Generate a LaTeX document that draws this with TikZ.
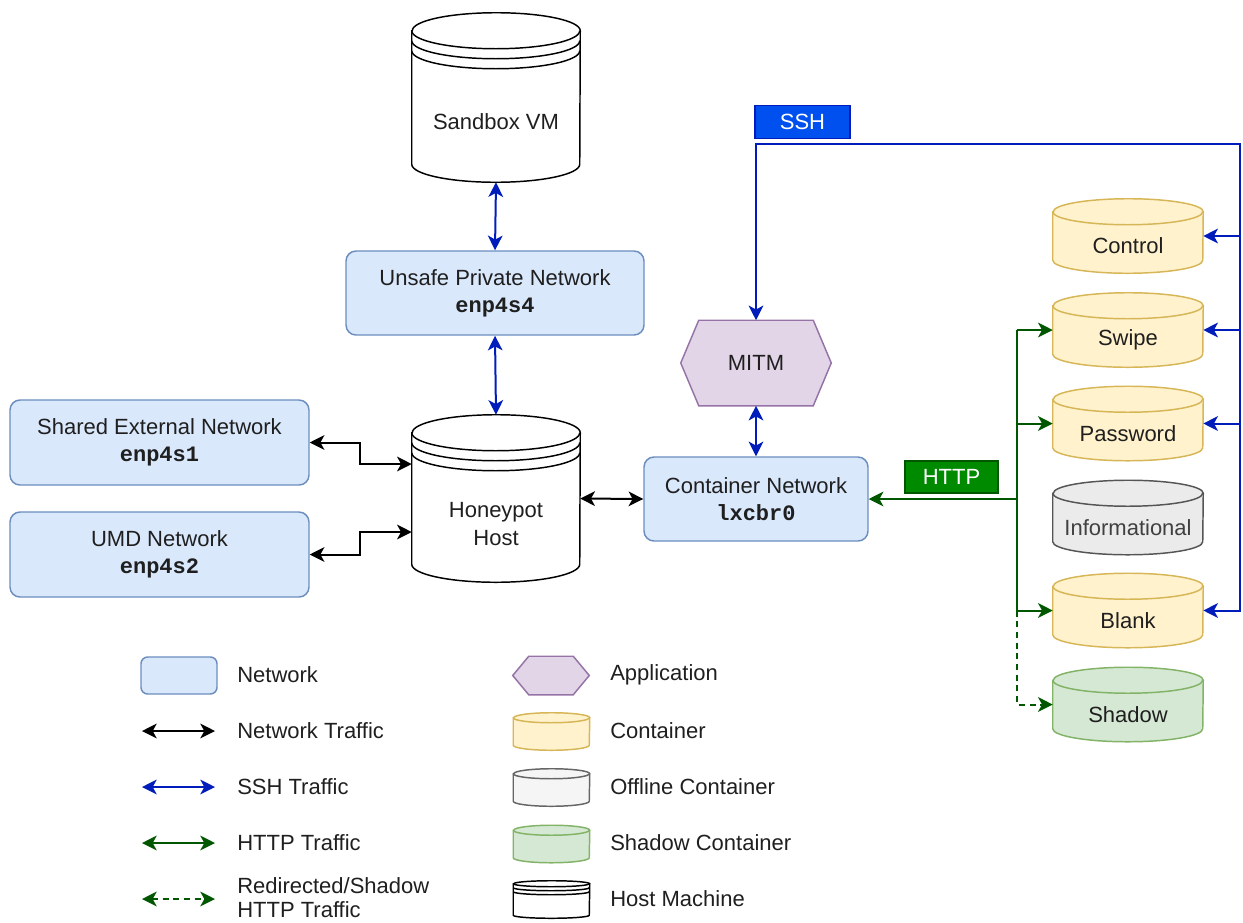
\documentclass[tikz,border=0pt]{standalone}
\usepackage{fontspec}
\setmainfont{Liberation Sans}
\setmonofont{Liberation Mono}
\usetikzlibrary{arrows.meta,backgrounds,calc}
\definecolor{netfill}{HTML}{DAE8FC}
\definecolor{netdraw}{HTML}{6C8EBF}
\definecolor{appfill}{HTML}{E1D5E7}
\definecolor{appdraw}{HTML}{9673A6}
\definecolor{ctfill}{HTML}{FFF2CC}
\definecolor{ctdraw}{HTML}{D6B656}
\definecolor{offfill}{HTML}{EBEBEB}
\definecolor{offdraw}{HTML}{555555}
\definecolor{offfillL}{HTML}{F5F5F5}
\definecolor{offdrawL}{HTML}{666666}
\definecolor{shfill}{HTML}{D5E8D4}
\definecolor{shdraw}{HTML}{82B366}
\definecolor{sshc}{HTML}{001DBC}
\definecolor{sshfill}{HTML}{0050EF}
\definecolor{httpc}{HTML}{005700}
\definecolor{httpfill}{HTML}{008A00}
\definecolor{txtc}{HTML}{1F1F1F}

% cylinder body: node, x radius, y radius, fill, draw
\newcommand{\mycyl}[5]{%
  \filldraw[fill=#4,draw=#5,line width=1.1pt]
    ([yshift=-#3]#1.north west) -- ([yshift=#3]#1.south west)
    arc[start angle=180,end angle=360,x radius=#2,y radius=#3]
    -- ([yshift=-#3]#1.north east)
    arc[start angle=0,end angle=180,x radius=#2,y radius=#3] -- cycle;
  \draw[draw=#5,line width=1.1pt] ([yshift=-#3]#1.north west)
    arc[start angle=180,end angle=360,x radius=#2,y radius=#3];
}
% extra front arc: node, x radius, y radius, shift, draw
\newcommand{\myarc}[5]{%
  \draw[draw=#5,line width=1.1pt] ([yshift=-#3-#4]#1.north west)
    arc[start angle=180,end angle=360,x radius=#2,y radius=#3];
}
% hexagon: node, cut
\newcommand{\myhex}[2]{%
  \filldraw[fill=appfill,draw=appdraw,line width=1.1pt]
    (#1.west) -- ([xshift=#2]#1.north west) -- ([xshift=-#2]#1.north east)
    -- (#1.east) -- ([xshift=-#2]#1.south east) -- ([xshift=#2]#1.south west) -- cycle;
}

\tikzset{
  txt/.style={font=\fontsize{16.5}{20.25}\selectfont, text=txtc},
  netbox/.style={rectangle, rounded corners=7.5pt, draw=netdraw, fill=netfill,
    line width=1.1pt, align=center, inner sep=0pt, txt},
  ghost/.style={rectangle, inner sep=0pt, txt},
  hostnode/.style={ghost, minimum width=126pt},
  ctnode/.style={ghost, minimum width=112.5pt, minimum height=55.5pt},
  lgcyl/.style={ghost, minimum width=57pt, minimum height=27.75pt},
  lgtext/.style={txt, anchor=west, inner sep=0pt, align=left},
  conn/.style={line width=1.5pt},
  netl/.style={conn, draw=black},
  sshl/.style={conn, draw=sshc},
  httpl/.style={conn, draw=httpc},
  shadl/.style={httpl, dash pattern=on 4.5pt off 3.5pt},
  tagbox/.style={rectangle, inner sep=0pt, text=white, line width=1.1pt,
    font=\fontsize{16.5}{20}\selectfont},
  >={Stealth[length=11pt,width=11pt,inset=3pt]},
}

\begin{document}
\begin{tikzpicture}[x=0.75pt,y=-0.75pt]
\useasboundingbox (0,0) rectangle (1243,922);

% ---------- hosts ----------
\node[hostnode, minimum height=126.75pt,
  label={[txt,yshift=-18.4pt]center:Sandbox VM}] (sb) at (496,97.5) {};
\node[hostnode, minimum height=125.25pt,
  label={[txt,align=center,yshift=-19pt,font=\fontsize{16.5}{21}\selectfont]center:Honeypot\\Host}] (hp) at (496,498.5) {};

% ---------- networks ----------
\node[netbox, minimum width=223.5pt, minimum height=63pt] (up) at (495,293)
  {Unsafe Private Network\\\texttt{\textbf{enp4s4}}};
\node[netbox, minimum width=224.25pt, minimum height=63.75pt] (se) at (159.5,442.5)
  {Shared External Network\\\texttt{\textbf{enp4s1}}};
\node[netbox, minimum width=224.25pt, minimum height=63.75pt] (umd) at (159.5,554.5)
  {UMD Network\\\texttt{\textbf{enp4s2}}};
\node[netbox, minimum width=168pt, minimum height=63pt] (cn) at (756,499)
  {Container Network\\\texttt{\textbf{lxcbr0}}};

% ---------- application ----------
\node[ghost, minimum width=112.5pt, minimum height=63.75pt] (mitm) at (756,363) {MITM};

% ---------- containers ----------
\node[ctnode, label={[txt,yshift=-7.5pt]center:Control}] (control) at (1128,236) {};
\node[ctnode, label={[txt,yshift=-7.5pt]center:Swipe}] (swipe) at (1128,330) {};
\node[ctnode, label={[txt,yshift=-7.5pt]center:Password}] (password) at (1128,423.5) {};
\node[ctnode, label={[txt,yshift=-7.5pt,text=black!75]center:Informational}] (info) at (1128,517.5) {};
\node[ctnode, label={[txt,yshift=-7.5pt]center:Blank}] (blank) at (1128,610.5) {};
\node[ctnode, label={[txt,yshift=-7.5pt]center:Shadow}] (shadow) at (1128,704.5) {};

% ---------- tags ----------
\node[tagbox, fill=sshfill, draw=sshc, minimum width=71.25pt, minimum height=24.75pt] (sshtag) at (802.5,122) {SSH};
\node[tagbox, fill=httpfill, draw=httpc, minimum width=69.75pt, minimum height=24pt] (httptag) at (951.5,477) {HTTP};

% ---------- legend ----------
\node[netbox, rounded corners=5pt, minimum width=57pt, minimum height=27.75pt] (lgnet) at (179,675.5) {};
\node[lgtext] (lgnett) at (237,675) {Network};
\coordinate (lga1) at (142,731); \coordinate (lgb1) at (215,731);
\node[lgtext] (lgt1) at (237,731) {Network Traffic};
\coordinate (lga2) at (142,787); \coordinate (lgb2) at (215,787);
\node[lgtext] (lgt2) at (237,787) {SSH Traffic};
\coordinate (lga3) at (142,843); \coordinate (lgb3) at (215,843);
\node[lgtext] (lgt3) at (237,843) {HTTP Traffic};
\coordinate (lga4) at (142,899); \coordinate (lgb4) at (215,899);
\node[lgtext, font=\fontsize{16.5}{18.2}\selectfont] (lgt4) at (237,897.5) {Redirected/Shadow\\HTTP Traffic};

\node[ghost, minimum width=57pt, minimum height=28.5pt] (lgapp) at (551,675.5) {};
\node[lgtext] (lgappt) at (610,675) {Application};
\node[lgcyl] (lgct) at (551.5,731.5) {};
\node[lgtext] (lgctt) at (610,731) {Container};
\node[lgcyl] (lgoff) at (551.5,787.5) {};
\node[lgtext] (lgofft) at (610,787) {Offline Container};
\node[lgcyl] (lgsh) at (551.5,844) {};
\node[lgtext] (lgsht) at (610,843) {Shadow Container};
\node[lgcyl] (lghost) at (551.5,899.5) {};
\node[lgtext] (lghostt) at (610,899) {Host Machine};

% ---------- shapes on background ----------
\begin{pgfonlayer}{background}
  \mycyl{sb}{63pt}{13.5pt}{white}{black}
  \myarc{sb}{63pt}{13.5pt}{7.5pt}{black}
  \myarc{sb}{63pt}{13.5pt}{15pt}{black}
  \mycyl{hp}{63pt}{13.5pt}{white}{black}
  \myarc{hp}{63pt}{13.5pt}{7.5pt}{black}
  \myarc{hp}{63pt}{13.5pt}{15pt}{black}
  \myhex{mitm}{13.5pt}
  \mycyl{control}{56.25pt}{9.75pt}{ctfill}{ctdraw}
  \mycyl{swipe}{56.25pt}{9.75pt}{ctfill}{ctdraw}
  \mycyl{password}{56.25pt}{9.75pt}{ctfill}{ctdraw}
  \mycyl{info}{56.25pt}{9.75pt}{offfill}{offdraw}
  \mycyl{blank}{56.25pt}{9.75pt}{ctfill}{ctdraw}
  \mycyl{shadow}{56.25pt}{9.75pt}{shfill}{shdraw}
  \myhex{lgapp}{12pt}
  \mycyl{lgct}{28.5pt}{3.75pt}{ctfill}{ctdraw}
  \mycyl{lgoff}{28.5pt}{3.75pt}{offfillL}{offdrawL}
  \mycyl{lgsh}{28.5pt}{3.75pt}{shfill}{shdraw}
  \mycyl{lghost}{28.5pt}{2.25pt}{white}{black}
  \myarc{lghost}{28.5pt}{2.25pt}{3pt}{black}
  \myarc{lghost}{28.5pt}{2.25pt}{6pt}{black}
\end{pgfonlayer}

% ---------- connectors ----------
\coordinate (jx) at (360,0);
\coordinate (sTR) at (1240,144);
\coordinate (gX) at (1017,499);

\draw[sshl,<->] (sb.south) -- (up.north);
\draw[sshl,<->] (up.south) -- (hp.north);
\draw[netl,<->] (se.east) -- (se.east -| jx) |- (hp.west |- 0,464);
\draw[netl,<->] (umd.east) -- (umd.east -| jx) |- (hp.west |- 0,532);
\draw[netl,<->] (hp.east) -- (cn.west);
\draw[sshl,<->] (mitm.south) -- (cn.north);

\draw[sshl,<->] (mitm.north) |- (sTR) |- (blank.east);
\draw[sshl,->] (control.east -| sTR) -- (control.east);
\draw[sshl,->] (swipe.east -| sTR) -- (swipe.east);
\draw[sshl,->] (password.east -| sTR) -- (password.east);

\draw[httpl,->] (gX) -- (cn.east);
\draw[httpl] (swipe.west -| gX) -- (blank.west -| gX);
\draw[httpl,->] (swipe.west -| gX) -- (swipe.west);
\draw[httpl,->] (password.west -| gX) -- (password.west);
\draw[httpl,->] (blank.west -| gX) -- (blank.west);
\draw[shadl,->] (blank.west -| gX) |- (shadow.west);

% legend connectors
\draw[netl,<->] (lga1) -- (lgb1);
\draw[sshl,<->] (lga2) -- (lgb2);
\draw[httpl,<->] (lga3) -- (lgb3);
\draw[shadl,<->] (lga4) -- (lgb4);
\end{tikzpicture}
\end{document}
